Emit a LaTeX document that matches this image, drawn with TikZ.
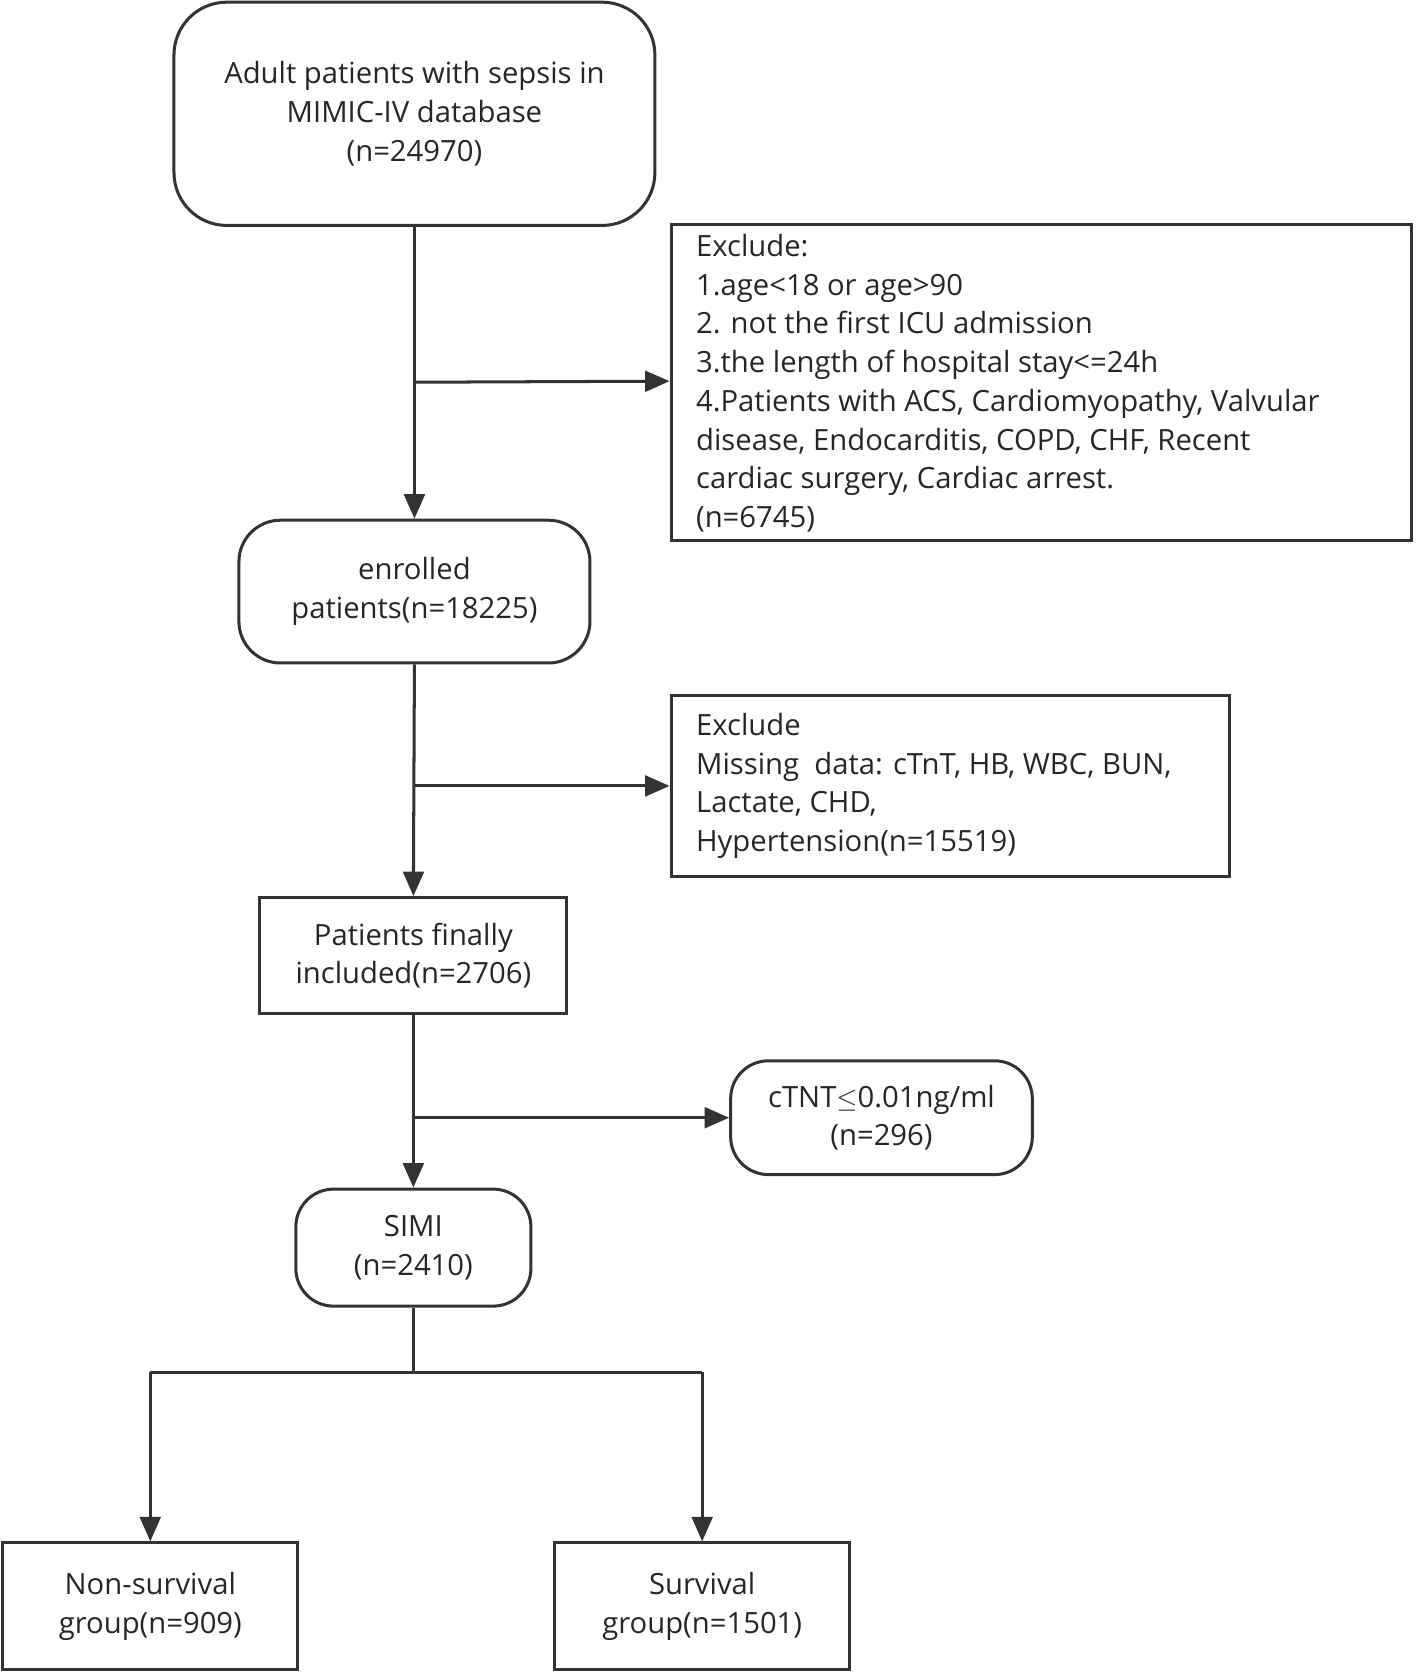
\documentclass[tikz,border=0pt]{standalone}
\usepackage{fontspec}
\setmainfont{Open Sans}
\usetikzlibrary{arrows.meta}
\begin{document}
\begin{tikzpicture}[x=0.02cm,y=-0.02cm,
  every node/.style={font=\fontsize{15.5}{20.5}\selectfont, text=black!85, align=center, inner sep=0pt},
  box/.style={draw=black!80, line width=1.6pt},
  rbox/.style={box, rounded corners=#1},
  ln/.style={draw=black!80, line width=1.6pt},
  ar/.style={ln, -{Triangle[length=13pt,width=11pt]}}]
\useasboundingbox (0,0) rectangle (1320,1561);
\node[rbox=28pt, minimum width=448\pgflinewidth, minimum width=8.96cm, minimum height=4.16cm] (a) at (386,106) {Adult patients with sepsis in\\MIMIC-IV database\\(n=24970)};
\node[box, minimum width=13.8cm, minimum height=5.88cm] (e1) at (970,356) {};
\node[anchor=north west, align=left] at (648,218) {Exclude:\\1.age<18 or age>90\\2. not the first ICU admission\\3.the length of hospital stay<=24h\\4.Patients with ACS, Cardiomyopathy, Valvular\\disease, Endocarditis, COPD, CHF, Recent\\cardiac surgery, Cardiac arrest.\\(n=6745)};
\node[rbox=22pt, minimum width=6.54cm, minimum height=2.66cm] (b) at (386,551) {enrolled\\patients(n=18225)};
\node[box, minimum width=10.4cm, minimum height=3.36cm] (e2) at (885,732) {};
\node[anchor=north west, align=left] at (648,664) {Exclude\\Missing\ \ data: cTnT, HB, WBC, BUN,\\Lactate, CHD,\\Hypertension(n=15519)};
\node[box, minimum width=5.72cm, minimum height=2.16cm] (c) at (385,890) {Patients finally\\included(n=2706)};
\node[rbox=20pt, minimum width=5.62cm, minimum height=2.12cm] (e3) at (821,1041) {cTNT$\leq$0.01ng/ml\\(n=296)};
\node[rbox=20pt, minimum width=4.38cm, minimum height=2.18cm] (d) at (385,1162) {SIMI\\(n=2410)};
\node[box, minimum width=5.5cm, minimum height=2.36cm] (f) at (140,1496) {Non-survival\\group(n=909)};
\node[box, minimum width=5.5cm, minimum height=2.36cm] (g) at (654,1496) {Survival\\group(n=1501)};
\draw[ar] (a.south) -- (b.north);
\coordinate (j1) at (a.south |- e1.west);
\draw[ar] (j1) -- (e1.west |- 0,355);
\draw[ar] (b.south) -- (c.north);
\draw[ar] (386,732) -- (e2.west);
\draw[ar] (c.south) -- (d.north);
\draw[ar] (386,1041) -- (e3.west);
\coordinate (h) at (385,1278);
\draw[ln] (d.south) -- (h);
\draw[ln] (140,1278) -- (654,1278);
\draw[ar] (140,1278) -- (f.north);
\draw[ar] (654,1278) -- (g.north);
\end{tikzpicture}
\end{document}
